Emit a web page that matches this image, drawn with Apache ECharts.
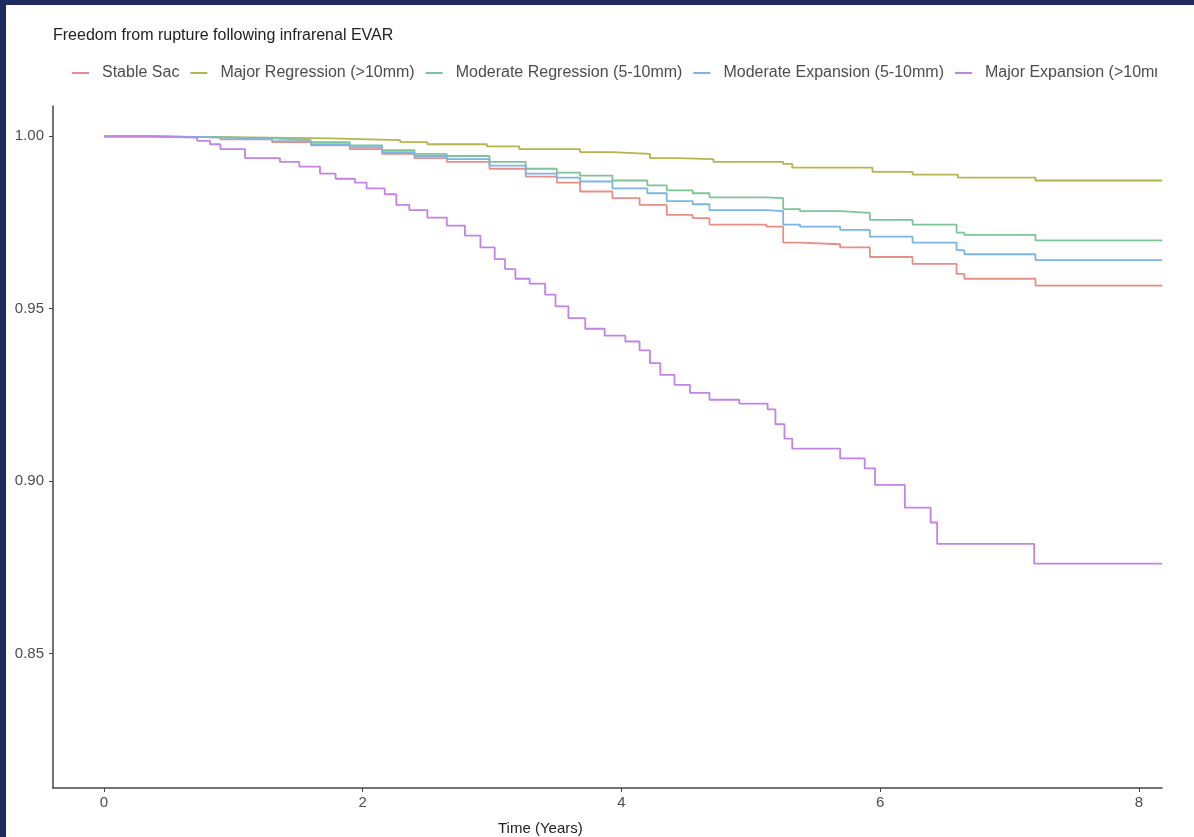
<!DOCTYPE html>
<html>
<head>
<meta charset="utf-8">
<script src="https://cdn.jsdelivr.net/npm/echarts@6/dist/echarts.min.js"></script>
<style>
  html, body { margin: 0; padding: 0; background: #1e2a5e; }
  #chart { position: absolute; left: 6px; top: 5px; width: 1188px; height: 832px; background: #ffffff; }
</style>
</head>
<body>
<div id="chart"></div>
<script>
// Kaplan-Meier step points: value holds from each time onwards
const seriesNames = ["Stable Sac", "Major Regression (>10mm)", "Moderate Regression (5-10mm)", "Moderate Expansion (5-10mm)", "Major Expansion (>10mm)"];
const seriesColors = ["#E58F87", "#B3B54E", "#7DC497", "#7CB5E5", "#C383E6"];

const stableT = [0, 0.35, 0.90, 1.30, 1.60, 1.90, 2.15, 2.40, 2.65, 2.98, 3.26, 3.50, 3.68, 3.93, 4.14, 4.35, 4.55, 4.68, 5.12, 5.25, 5.38, 5.69, 5.92, 6.25, 6.59, 6.65, 7.20, 8.18];
const stableV = [1, 0.9997, 0.9991, 0.9983, 0.9974, 0.9963, 0.9949, 0.9937, 0.9926, 0.9906, 0.9883, 0.9866, 0.9840, 0.9821, 0.9801, 0.9772, 0.9763, 0.9744, 0.9738, 0.9692, 0.9687, 0.9678, 0.9650, 0.9630, 0.9601, 0.9587, 0.9567, 0.9567];

const majRegT = [0, 0.36, 1.13, 1.75, 2.29, 2.50, 2.96, 3.21, 3.68, 3.93, 4.22, 4.43, 4.71, 5.25, 5.32, 5.94, 6.25, 6.60, 7.20, 8.18];
const majRegV = [1, 0.9997, 0.9994, 0.9989, 0.9983, 0.9977, 0.9971, 0.9963, 0.9954, 0.9949, 0.9937, 0.9934, 0.9926, 0.9920, 0.9909, 0.9897, 0.9889, 0.9880, 0.9872, 0.9872];

const modRegT = [0, 0.35, 0.90, 1.30, 1.60, 1.90, 2.15, 2.40, 2.65, 2.98, 3.26, 3.50, 3.68, 3.93, 4.20, 4.35, 4.55, 4.68, 5.12, 5.25, 5.38, 5.69, 5.92, 6.25, 6.59, 6.65, 7.20, 8.18];
const modRegV = [1, 0.9997, 0.9994, 0.9989, 0.9983, 0.9974, 0.9960, 0.9949, 0.9943, 0.9926, 0.9906, 0.9895, 0.9886, 0.9872, 0.9858, 0.9843, 0.9835, 0.9823, 0.9821, 0.9789, 0.9783, 0.9778, 0.9758, 0.9744, 0.9721, 0.9714, 0.9698, 0.9698];

const modExpT = [0, 0.35, 0.90, 1.30, 1.60, 1.90, 2.15, 2.40, 2.65, 2.98, 3.26, 3.50, 3.68, 3.93, 4.20, 4.35, 4.55, 4.68, 5.12, 5.25, 5.38, 5.69, 5.92, 6.25, 6.59, 6.65, 7.20, 8.18];
const modExpV = [1, 0.9997, 0.9992, 0.9986, 0.9977, 0.9969, 0.9954, 0.9943, 0.9934, 0.9915, 0.9892, 0.9880, 0.9869, 0.9849, 0.9835, 0.9812, 0.9803, 0.9786, 0.9783, 0.9744, 0.9738, 0.9729, 0.9709, 0.9692, 0.9670, 0.9658, 0.9641, 0.9641];

const majExpT = [0, 0.34, 0.72, 0.82, 0.90, 1.09, 1.36, 1.51, 1.67, 1.79, 1.94, 2.03, 2.17, 2.26, 2.36, 2.50, 2.65, 2.79, 2.91, 3.02, 3.10, 3.18, 3.29, 3.41, 3.49, 3.59, 3.72, 3.87, 4.03, 4.14, 4.22, 4.30, 4.41, 4.53, 4.68, 4.91, 5.13, 5.19, 5.26, 5.32, 5.69, 5.88, 5.96, 6.19, 6.39, 6.44, 7.19, 8.18];
const majExpV = [1, 0.9996, 0.9987, 0.9977, 0.9963, 0.9937, 0.9926, 0.9912, 0.9892, 0.9877, 0.9866, 0.9849, 0.9832, 0.9801, 0.9786, 0.9764, 0.9741, 0.9712, 0.9678, 0.9644, 0.9615, 0.9587, 0.9573, 0.9541, 0.9507, 0.9473, 0.9442, 0.9422, 0.9405, 0.9379, 0.9342, 0.9308, 0.9279, 0.9256, 0.9236, 0.9225, 0.9208, 0.9165, 0.9123, 0.9094, 0.9066, 0.9037, 0.8989, 0.8923, 0.8880, 0.8818, 0.8761, 0.8761];

const xTicks = [0, 2, 4, 6, 8];
const yTicks = [0.85, 0.90, 0.95, 1.00];

const times = [stableT, majRegT, modRegT, modExpT, majExpT];
const values = [stableV, majRegV, modRegV, modExpV, majExpV];

const textColor = "#4d4d4d";
const axisColor = "#444444";
const font = "Liberation Sans, Arial, sans-serif";

const chart = echarts.init(document.getElementById("chart"), null, { renderer: "canvas" });

const option = {
  backgroundColor: "#ffffff",
  animation: false,
  title: {
    text: "Freedom from rupture following infrarenal EVAR",
    left: 42,
    top: 18,
    textStyle: { fontFamily: font, fontSize: 16, fontWeight: "normal", color: "#222222" }
  },
  legend: {
    left: 61,
    top: 55,
    icon: "rect",
    itemWidth: 17,
    itemHeight: 2,
    itemGap: 11,
    textStyle: { fontFamily: font, fontSize: 16, color: textColor, padding: [0, 0, 0, 8] },
    data: seriesNames
  },
  grid: { left: 47, right: 32, top: 101, bottom: 49, containLabel: false },
  xAxis: {
    type: "value",
    min: -0.394,
    max: 8.178,
    splitLine: { show: false },
    axisLine: { onZero: false, lineStyle: { color: axisColor, width: 1.5 } },
    axisTick: { length: 4, lineStyle: { color: axisColor }, customValues: xTicks },
    axisLabel: { customValues: xTicks, margin: 7, fontFamily: font, fontSize: 15, color: textColor }
  },
  yAxis: {
    type: "value",
    min: 0.811,
    max: 1.0088,
    splitLine: { show: false },
    axisLine: { show: true, onZero: false, lineStyle: { color: axisColor, width: 1.5 } },
    axisTick: { show: true, length: 4, lineStyle: { color: axisColor }, customValues: yTicks },
    axisLabel: {
      customValues: yTicks, margin: 9, fontFamily: font, fontSize: 15, color: textColor,
      formatter: (v) => v.toFixed(2)
    }
  },
  graphic: [
    {
      type: "text",
      left: 492,
      top: 816,
      z: 100,
      style: { text: "Time (Years)", fontFamily: font, fontSize: 15, fill: "#222222" }
    },
    {
      // the source image cuts the last legend entry at the panel edge
      type: "rect",
      z: 100,
      shape: { x: 1151, y: 50, width: 40, height: 30 },
      style: { fill: "#ffffff" }
    }
  ],
  series: seriesNames.map((name, i) => ({
    name: name,
    type: "line",
    step: "end",
    showSymbol: false,
    symbol: "none",
    color: seriesColors[i],
    lineStyle: { width: 1.8, color: seriesColors[i] },
    data: times[i].map((t, j) => [t, values[i][j]])
  }))
};

chart.setOption(option);
</script>
</body>
</html>
